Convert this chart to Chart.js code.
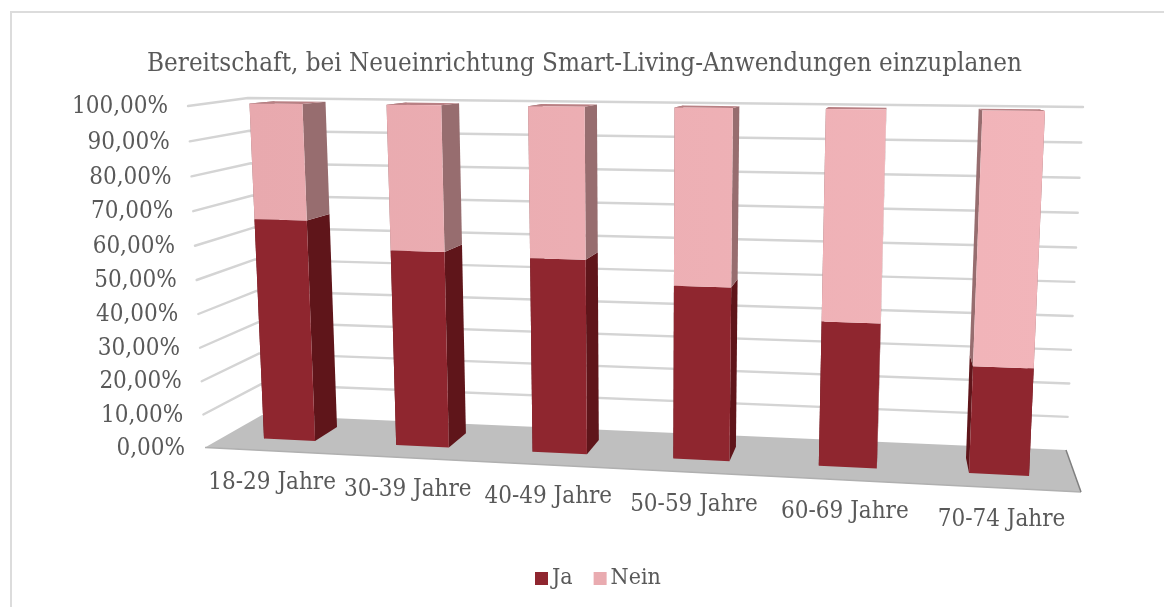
<!DOCTYPE html>
<html><head><meta charset="utf-8">
<script src="https://cdn.jsdelivr.net/npm/chart.js@4"></script>
<style>
html,body{margin:0;padding:0;background:#fff}
#wrap{position:relative;width:1164px;height:607px;overflow:hidden}
#frame{position:absolute;left:10px;top:11px;right:-5px;bottom:-5px;border-left:2px solid #dcdcdc;border-top:2px solid #dcdcdc}
canvas{position:absolute;left:0;top:0}
</style></head><body>
<div id="wrap"><div id="frame"></div><canvas id="c" width="1164" height="607"></canvas></div>
<script>
const titleText = 'Bereitschaft, bei Neueinrichtung Smart-Living-Anwendungen einzuplanen';
const categories = ['18-29 Jahre','30-39 Jahre','40-49 Jahre','50-59 Jahre','60-69 Jahre','70-74 Jahre'];
const ja = [66.3, 58.1, 56.9, 50.2, 41.4, 30.3];
const nein = [33.7, 41.9, 43.1, 49.8, 58.6, 69.7];
const yTickLabels = ['0,00%','10,00%','20,00%','30,00%','40,00%','50,00%','60,00%','70,00%','80,00%','90,00%','100,00%'];

const FONT = "'DejaVu Serif Condensed','DejaVu Serif', serif", TEXT = '#595959';
const LABEL_SIZE = 24, LEGEND_SIZE = 23, TITLE_SIZE = 25.8;
const BAR_FRAC = 0.39;

function quad(p0,p1,p2,p3){ // p0 (0,0) p1 (1,0) p2 (1,1) p3 (0,1)
  const dx1=p1[0]-p2[0],dx2=p3[0]-p2[0],dx3=p0[0]-p1[0]+p2[0]-p3[0];
  const dy1=p1[1]-p2[1],dy2=p3[1]-p2[1],dy3=p0[1]-p1[1]+p2[1]-p3[1];
  const den=dx1*dy2-dx2*dy1;
  const g=(dx3*dy2-dx2*dy3)/den,h=(dx1*dy3-dx3*dy1)/den;
  const a=p1[0]-p0[0]+g*p1[0],b=p3[0]-p0[0]+h*p3[0],c=p0[0];
  const d=p1[1]-p0[1]+g*p1[1],e=p3[1]-p0[1]+h*p3[1],f=p0[1];
  return (s,t)=>{const w=g*s+h*t+1;return [(a*s+b*t+c)/w,(d*s+e*t+f)/w];};
}
// plane maps: u across categories (0..1), v up the value axis (0..1)
function plane(ua,ub,tl,tr,br,bl){
  const q=quad(tl,tr,br,bl);
  return (u,v)=>q((u-ua)/(ub-ua),1-v);
}
const U1=(0.5-BAR_FRAC/2)/6, U2=(5.5+BAR_FRAC/2)/6, DU=BAR_FRAC/6;
const barFront=plane(U1,U2,[249.5,103.5],[1045,111],[1029,476],[264,438.5]);
const barBack =plane(U1+DU,U2-DU,[325.5,101.7],[978.7,108.7],[966,458],[337,427]);
const wallBack =plane(0,1,[248,98],[1083,107],[1066,450],[262,415]);
const wallFront=plane(0,1,[188,106],[1100,112],[1081,492],[205,447.5]);

function poly(ctx,pts,fill){
  ctx.beginPath();pts.forEach((p,i)=>i?ctx.lineTo(p[0],p[1]):ctx.moveTo(p[0],p[1]));ctx.closePath();
  ctx.fillStyle=fill;ctx.fill();
}
const shades={ja:{side:'#5f151a',top:'#6e1d22',left:'#8f262f',right:'#8f262f'},
              nein:{side:'#976d6f',top:'#b98084',left:'#e8a9ae',right:'#f2b5ba'}};

const scene={
  id:'scene',
  beforeDatasetsDraw(chart){
    const ctx=chart.ctx,ys=chart.scales.y,area=chart.chartArea;
    const W=area.right-area.left,H=area.bottom-area.top;
    const vOf=val=>(area.bottom-ys.getPixelForValue(val))/H;
    ctx.save();
    // grid lines across the left and back walls
    ctx.strokeStyle='#d4d4d4';ctx.lineWidth=2.4;ctx.lineCap='round';ctx.lineJoin='round';
    ys.ticks.forEach(t=>{
      if(t.value===0)return;
      const v=vOf(t.value),a=wallFront(0,v),b=wallBack(0,v),c=wallBack(1,v);
      ctx.beginPath();ctx.moveTo(a[0],a[1]);ctx.lineTo(b[0],b[1]);ctx.lineTo(c[0],c[1]);ctx.stroke();
    });
    // floor
    const fl=wallFront(0,0),fr=wallFront(1,0),bl=wallBack(0,0),br=wallBack(1,0);
    poly(ctx,[fl,bl,br,fr],'#bfbfbf');
    ctx.lineCap='butt';
    ctx.strokeStyle='#b0b0b0';ctx.lineWidth=1.5;
    ctx.beginPath();ctx.moveTo(fl[0],fl[1]);ctx.lineTo(fr[0],fr[1]);ctx.stroke();
    ctx.strokeStyle='#808080';ctx.lineWidth=1.5;
    ctx.beginPath();ctx.moveTo(br[0],br[1]);ctx.lineTo(fr[0],fr[1]);ctx.stroke();
    // value labels along the left edge
    ctx.font=LABEL_SIZE+'px '+FONT;ctx.fillStyle=TEXT;ctx.textAlign='right';ctx.textBaseline='middle';
    ys.ticks.forEach(t=>{
      const p=wallFront(0,vOf(t.value));
      ctx.fillText(yTickLabels[Math.round(t.value/10)],p[0]-20,p[1]+1);
    });
    // category labels below the floor
    const xs=chart.scales.x;ctx.textAlign='center';
    categories.forEach((c,i)=>{
      const p=wallFront((xs.getPixelForValue(i)-area.left)/W,0);
      ctx.fillText(c,p[0]+1,p[1]+32);
    });
    // legend
    ctx.textAlign='left';ctx.font=LEGEND_SIZE+'px '+FONT;
    let x=535;const ly=578.5;
    chart.data.datasets.forEach(ds=>{
      ctx.fillStyle=ds.backgroundColor;ctx.fillRect(x,ly-6.5,13,13);
      ctx.fillStyle=TEXT;ctx.fillText(ds.label,x+17,ly);
      x+=17+ctx.measureText(ds.label).width+21;
    });
    // bars, bottom segment first so upper segments paint over it
    chart.data.datasets.forEach((ds,i)=>{
      const sh=ds.shade,last=i===chart.data.datasets.length-1;
      const grad=ctx.createLinearGradient(250,0,1045,0);
      grad.addColorStop(0,sh.left);grad.addColorStop(1,sh.right);
      chart.getDatasetMeta(i).data.forEach(el=>{
        const uL=(el.x-el.width/2-area.left)/W,uR=(el.x+el.width/2-area.left)/W;
        const vT=(area.bottom-el.y)/H,vB=(area.bottom-el.base)/H;
        poly(ctx,[barFront(uR,vB),barFront(uR,vT),barBack(uR,vT),barBack(uR,vB)],sh.side);
        poly(ctx,[barFront(uL,vB),barFront(uL,vT),barBack(uL,vT),barBack(uL,vB)],sh.side);
        if(last)poly(ctx,[barFront(uL,vT),barFront(uR,vT),barBack(uR,vT),barBack(uL,vT)],sh.top);
        poly(ctx,[barFront(uL,vB),barFront(uR,vB),barFront(uR,vT),barFront(uL,vT)],grad);
      });
    });
    ctx.restore();
  },
  beforeDatasetDraw(){return false;}
};

new Chart(document.getElementById('c'),{
  type:'bar',
  data:{labels:categories,datasets:[
    {label:'Ja',data:ja,backgroundColor:'#8f262f',shade:shades.ja,barPercentage:BAR_FRAC,categoryPercentage:1},
    {label:'Nein',data:nein,backgroundColor:'#e9abb0',shade:shades.nein,barPercentage:BAR_FRAC,categoryPercentage:1}
  ]},
  plugins:[scene],
  options:{
    responsive:false,animation:false,
    layout:{padding:{left:5,right:0,top:0,bottom:159}},
    plugins:{
      legend:{display:false},tooltip:{enabled:false},
      title:{display:true,text:titleText,color:TEXT,font:{family:FONT,size:TITLE_SIZE,weight:'normal'},padding:{top:49,bottom:26}}
    },
    scales:{
      x:{stacked:true,grid:{display:false},border:{display:false},ticks:{display:false}},
      y:{stacked:true,min:0,max:100,grid:{display:false},border:{display:false},ticks:{display:false,stepSize:10}}
    }
  }
});
</script></body></html>
